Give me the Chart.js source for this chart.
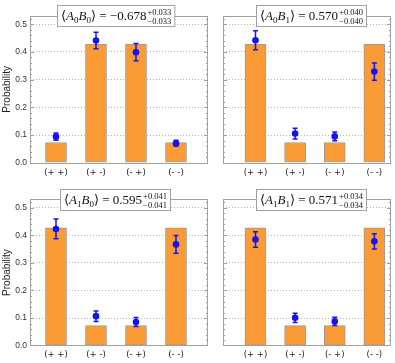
<!DOCTYPE html>
<html>
<head>
<meta charset="utf-8">
<script src="https://cdn.jsdelivr.net/npm/chart.js@4/dist/chart.umd.min.js"></script>
<style>
  html, body { margin: 0; padding: 0; background: #fff; }
  #wrap { position: relative; width: 395px; height: 363px; overflow: hidden; }
  #wrap canvas { position: absolute; }
</style>
</head>
<body>
<div id="wrap"></div>
<script>
// categories and tick labels
const categories = ['(+ +)', '(+ -)', '(- +)', '(- -)'];
const yTicks = [0, 0.1, 0.2, 0.3, 0.4, 0.5];

// ideal (theory) bar heights
const theoryA0B0 = [0.073, 0.427, 0.427, 0.073];
const theoryA0B1 = [0.427, 0.073, 0.073, 0.427];
const theoryA1B0 = [0.427, 0.073, 0.073, 0.427];
const theoryA1B1 = [0.427, 0.073, 0.073, 0.427];

// measured probabilities and their errors
const measA0B0 = [0.094, 0.441, 0.399, 0.070];
const errA0B0 = [0.013, 0.030, 0.031, 0.011];
const measA0B1 = [0.442, 0.105, 0.095, 0.329];
const errA0B1 = [0.034, 0.019, 0.016, 0.031];
const measA1B0 = [0.423, 0.107, 0.086, 0.367];
const errA1B0 = [0.036, 0.019, 0.016, 0.032];
const measA1B1 = [0.385, 0.101, 0.088, 0.378];
const errA1B1 = [0.028, 0.017, 0.015, 0.028];

// correlator labels: [A index, B index, value, plus, minus]
const corrA0B0 = ['0', '0', '\u22120.678', '+0.033', '\u22120.033'];
const corrA0B1 = ['0', '1', '0.570', '+0.040', '\u22120.040'];
const corrA1B0 = ['1', '0', '0.595', '+0.041', '\u22120.041'];
const corrA1B1 = ['1', '1', '0.571', '+0.034', '\u22120.034'];

const SERIF = '"Liberation Serif", "DejaVu Serif", serif';
const ORANGE = '#fb9b35';
const BLUE = '#1414f0';
const FRAME = '#a0a0a0';

// page layout of the four panels
const panels = [
    { left: 0,   top: 0,   w: 215, h: 182, yw: 30, padTop: 15.9, padRight: 7, xh: 19.3, xmin: 0.35, xmax: 4.8,  showY: true,  dx: -0.5, lp: 5,
      theory: theoryA0B0, meas: measA0B0, err: errA0B0, corr: corrA0B0 },
    { left: 215, top: 0,   w: 180, h: 182, yw: 8,  padTop: 15.9, padRight: 1, xh: 19.3, xmin: 0.18, xmax: 4.42, showY: false, dx: -4, lp: 5,
      theory: theoryA0B1, meas: measA0B1, err: errA0B1, corr: corrA0B1 },
    { left: 0,   top: 182, w: 215, h: 181, yw: 30, padTop: 17.4, padRight: 7, xh: 17.3, xmin: 0.35, xmax: 4.8,  showY: true,  dx: -0.5, lp: 3.5,
      theory: theoryA1B0, meas: measA1B0, err: errA1B0, corr: corrA1B0 },
    { left: 215, top: 182, w: 180, h: 181, yw: 8,  padTop: 17.4, padRight: 1, xh: 17.3, xmin: 0.18, xmax: 4.42, showY: false, dx: -4, lp: 3.5,
      theory: theoryA1B1, meas: measA1B1, err: errA1B1, corr: corrA1B1 }
];

// error bars (drawn over the bars, under the points), frame, inner ticks, title box
const panelPlugin = {
    id: 'panel',
    afterDatasetDraw(chart, args, opts) {
        if (args.meta.type !== 'bar') return;
        const ctx = chart.ctx, xs = chart.scales.x, ys = chart.scales.y;
        ctx.save();
        ctx.strokeStyle = BLUE;
        ctx.lineWidth = 1.5;
        opts.meas.forEach((v, i) => {
            const px = xs.getPixelForValue(i + 1);
            const lo = ys.getPixelForValue(v - opts.err[i]);
            const hi = ys.getPixelForValue(v + opts.err[i]);
            ctx.beginPath();
            ctx.moveTo(px, lo); ctx.lineTo(px, hi);
            ctx.moveTo(px - 2.5, lo); ctx.lineTo(px + 2.5, lo);
            ctx.moveTo(px - 2.5, hi); ctx.lineTo(px + 2.5, hi);
            ctx.stroke();
        });
        ctx.restore();
    },
    afterDraw(chart, args, opts) {
        const ctx = chart.ctx, a = chart.chartArea, ys = chart.scales.y, xs = chart.scales.x;
        ctx.save();
        // frame
        ctx.strokeStyle = FRAME;
        ctx.lineWidth = 1;
        ctx.strokeRect(Math.round(a.left) + 0.5, Math.round(a.top) + 0.5,
            Math.round(a.right - a.left) - 1, Math.round(a.bottom - a.top));
        // inner ticks, left and right
        ctx.beginPath();
        for (let k = 1; k <= 26; k++) {
            const v = k * 0.02;
            const py = Math.round(ys.getPixelForValue(v)) + 0.5;
            const len = (k % 5 === 0) ? 4 : 2;
            ctx.moveTo(a.left, py); ctx.lineTo(a.left + len, py);
            ctx.moveTo(a.right, py); ctx.lineTo(a.right - len, py);
        }
        ctx.stroke();

        // title box
        const c = opts.corr;
        const fMain = '13px ' + SERIF, fIt = 'italic 13px ' + SERIF;
        const fSub = '9px ' + SERIF, fScr = '8.5px ' + SERIF;
        const pieces = [
            { t: '\u27E8', f: fMain, dy: 0 },
            { t: 'A', f: fIt, dy: 0 },
            { t: c[0], f: fSub, dy: 3 },
            { t: 'B', f: fIt, dy: 0 },
            { t: c[1], f: fSub, dy: 3 },
            { t: '\u27E9 = ' + c[2], f: fMain, dy: 0 }
        ];
        let w = 0;
        pieces.forEach(p => { ctx.font = p.f; p.w = ctx.measureText(p.t).width; w += p.w; });
        ctx.font = fScr;
        const sw = Math.max(ctx.measureText(c[3]).width, ctx.measureText(c[4]).width);
        w += 1 + sw;
        const bw = w + 7, bh = 21;
        const cx = xs.getPixelForValue(2.5) + opts.dx;
        const bx = Math.round(cx - bw / 2) + 0.5, by = Math.round(a.top - 10.5) + 0.5;
        ctx.fillStyle = '#fff';
        ctx.fillRect(bx, by, bw, bh);
        ctx.strokeStyle = FRAME;
        ctx.strokeRect(bx, by, bw, bh);
        ctx.fillStyle = '#111';
        ctx.textBaseline = 'alphabetic';
        ctx.textAlign = 'left';
        let tx = bx + 3.5;
        const base = by + 14.5;
        pieces.forEach(p => { ctx.font = p.f; ctx.fillText(p.t, tx, base + p.dy); tx += p.w; });
        tx += 1;
        ctx.font = fScr;
        ctx.fillText(c[3], tx, base - 5.5);
        ctx.fillText(c[4], tx, base + 3.5);
        ctx.restore();
    }
};

const wrap = document.getElementById('wrap');

panels.forEach(p => {
    const canvas = document.createElement('canvas');
    canvas.width = p.w;
    canvas.height = p.h;
    canvas.style.left = p.left + 'px';
    canvas.style.top = p.top + 'px';
    canvas.style.width = p.w + 'px';
    canvas.style.height = p.h + 'px';
    wrap.appendChild(canvas);

    new Chart(canvas.getContext('2d'), {
        type: 'bar',
        data: {
            datasets: [
                {
                    type: 'scatter',
                    label: 'Measured',
                    data: p.meas.map((v, i) => ({ x: i + 1, y: v })),
                    backgroundColor: BLUE,
                    borderColor: BLUE,
                    pointRadius: 3.3,
                    borderWidth: 0
                },
                {
                    type: 'bar',
                    label: 'Theory',
                    data: p.theory.map((v, i) => ({ x: i + 1, y: v })),
                    backgroundColor: ORANGE,
                    borderColor: '#9a9a9a',
                    borderWidth: 1,
                    borderSkipped: false,
                    barThickness: 21
                }
            ]
        },
        options: {
            responsive: false,
            animation: false,
            events: [],
            layout: { padding: { top: p.padTop, right: p.padRight, left: 0, bottom: 0 } },
            plugins: {
                legend: { display: false },
                tooltip: { enabled: false },
                panel: { meas: p.meas, err: p.err, corr: p.corr, dx: p.dx }
            },
            scales: {
                x: {
                    type: 'linear',
                    offset: false,
                    min: p.xmin,
                    max: p.xmax,
                    afterBuildTicks: (s) => { s.ticks = categories.map((c, i) => ({ value: i + 1 })); },
                    afterFit: (s) => { s.height = p.xh; },
                    grid: { display: false, drawTicks: false, offset: false },
                    border: { display: false },
                    ticks: {
                        autoSkip: false,
                        maxRotation: 0,
                        padding: p.lp,
                        color: '#222',
                        font: { family: 'DejaVu Sans', size: 8.5 },
                        callback: (v) => categories[Math.round(v) - 1]
                    }
                },
                y: {
                    min: 0,
                    max: 0.53,
                    afterBuildTicks: (s) => { s.ticks = yTicks.map(v => ({ value: v })); },
                    afterFit: (s) => { s.width = p.yw; },
                    grid: {
                        drawTicks: false,
                        lineWidth: 1,
                        color: (ctx) => (ctx.tick && ctx.tick.value === 0) ? 'rgba(0,0,0,0)' : '#b4b4b4'
                    },
                    border: { display: false, dash: [1, 2] },
                    title: {
                        display: p.showY,
                        text: 'Probability',
                        color: '#222',
                        padding: { top: 1.5, bottom: 0 },
                        font: { family: 'Liberation Sans', size: 10 }
                    },
                    ticks: {
                        display: p.showY,
                        padding: 3,
                        color: '#333',
                        font: { family: 'Liberation Sans', size: 8.5 },
                        callback: (v) => v.toFixed(1)
                    }
                }
            }
        },
        plugins: [panelPlugin]
    });
});
</script>
</body>
</html>
